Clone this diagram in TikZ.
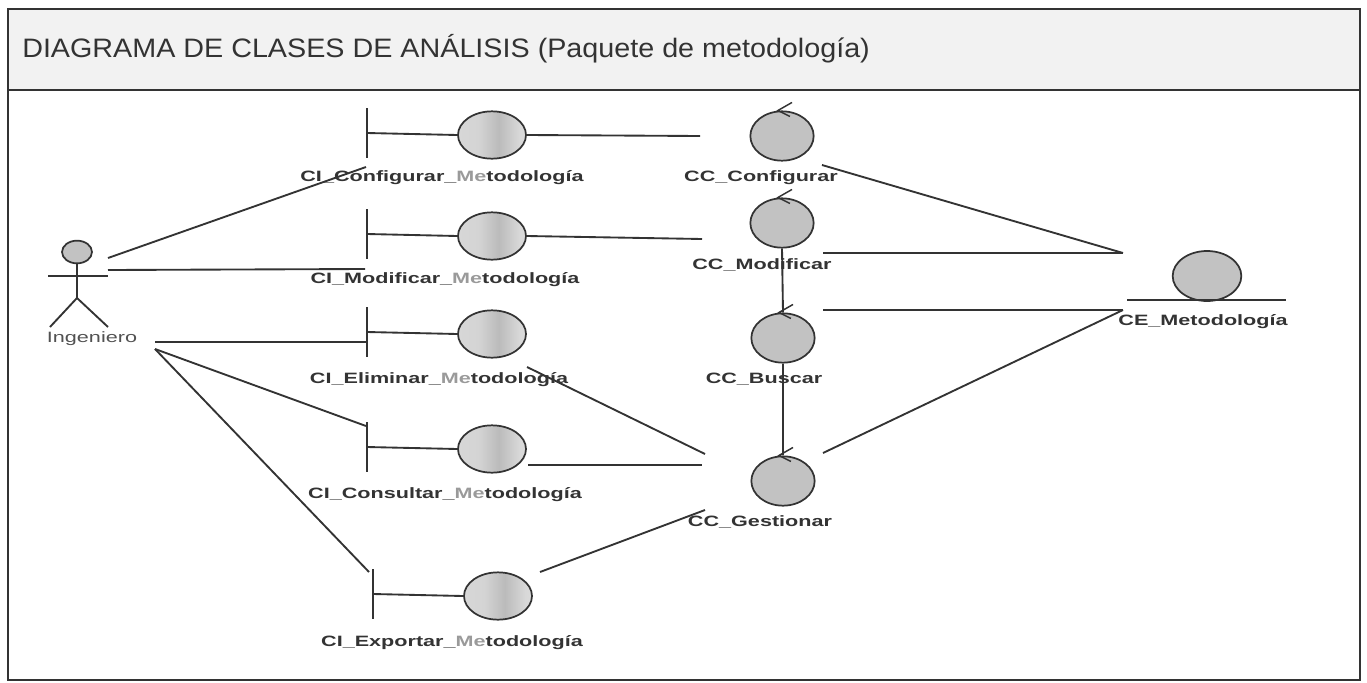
\documentclass[tikz,border=0pt]{standalone}
\usepackage{fontspec}
\usepackage{graphicx}
\setmainfont{Liberation Sans}
\usetikzlibrary{calc,shapes.geometric}

\definecolor{ink}{HTML}{333333}
\definecolor{soft}{HTML}{9A9A9A}
\definecolor{ctlfill}{HTML}{C2C2C2}
\definecolor{headfill}{HTML}{F2F2F2}
\definecolor{bA}{HTML}{DCDCDC}
\definecolor{bB}{HTML}{D4D4D4}
\definecolor{bC}{HTML}{BBBBBB}
\definecolor{bD}{HTML}{D8D8D8}
\definecolor{bE}{HTML}{ECECEC}

\pgfdeclarehorizontalshading{bndshade}{100bp}{color(0bp)=(bA); color(40bp)=(bB); color(55bp)=(bC); color(70bp)=(bD); color(100bp)=(bE)}

% text of the diagram is set wide
\newcommand{\widetxt}[1]{\scalebox{1.44}[1]{#1}}
\newcommand{\meto}{{\color{soft}Me}todología}

\begin{document}
\begin{tikzpicture}[x=0.75pt,y=-0.75pt,
  conn/.style={draw=ink, line width=1.4pt},
  frame/.style={draw=ink, line width=1.2pt},
  lbl/.style={font=\bfseries\fontsize{11.25}{13}\selectfont, text=ink, inner sep=0pt},
  actlbl/.style={font=\fontsize{11.25}{13}\selectfont, text=ink!85, inner sep=0pt},
  bnd/.style={ellipse, draw=ink, line width=1.3pt, shading=bndshade,
    minimum width=51pt, minimum height=35.5pt, inner sep=0pt},
  ctl/.style={ellipse, draw=ink, line width=1.3pt, fill=ctlfill,
    minimum width=47.5pt, minimum height=37pt, inner sep=0pt},
  ent/.style={ellipse, draw=ink, line width=1.3pt, fill=ctlfill,
    minimum width=51.5pt, minimum height=37.5pt, inner sep=0pt}]

\useasboundingbox (0,0) rectangle (1367,682);

% package frame and title bar
\filldraw[frame, fill=headfill] (8,9) rectangle (1360,90);
\draw[frame] (8,90) -- (8,680) -- (1360,680) -- (1360,90);
\node[anchor=base west, inner sep=0pt, text=ink,
  font=\fontsize{20}{24}\selectfont] (title) at (22,57)
  {\scalebox{1.077}[1]{DIAGRAMA DE CLASES DE ANÁLISIS (Paquete de metodología)}};

% actor
\node[ellipse, draw=ink, line width=1.3pt, fill=ctlfill, minimum width=22.5pt,
  minimum height=17pt, inner sep=0pt] (head) at (77,252) {};
\coordinate (hip) at (77,298);
\coordinate (armL) at (48,276);
\coordinate (armR) at (108,276);
\coordinate (footL) at (50,327);
\coordinate (footR) at (108,327);
\draw[conn] (head.south) -- (hip);
\draw[conn] (armL) -- (armR);
\draw[conn] (footL) -- (hip) -- (footR);
\node[actlbl] (ing) at (92,339) {\widetxt{Ingeniero}};

% boundary classes: bar, stub and shaded ellipse
\newcommand{\bndclass}[3]{%
  \node[bnd] (#1) at (#2,#3) {};
  \coordinate (#1-bt) at ($(#1)+(-125,-27)$);
  \coordinate (#1-bb) at ($(#1)+(-125,23)$);
  \draw[conn] (#1-bt) -- (#1-bb);
  \draw[conn] ($(#1-bt)!0.5!(#1-bb)$) -- (#1.west);
}
\bndclass{ciCfg}{492}{135}
\bndclass{ciMod}{492}{236}
\bndclass{ciEli}{492}{334}
\bndclass{ciCon}{492}{449}
\bndclass{ciExp}{498}{596}

\node[lbl] (ciCfgL) at (442,178) {\widetxt{CI\_Configurar\_\meto}};
\node[lbl] (ciModL) at (445,280) {\widetxt{CI\_Modificar\_\meto}};
\node[lbl] (ciEliL) at (439,380) {\widetxt{CI\_Eliminar\_\meto}};
\node[lbl] (ciConL) at (445,495) {\widetxt{CI\_Consultar\_\meto}};
\node[lbl] (ciExpL) at (452,643) {\widetxt{CI\_Exportar\_\meto}};

% control classes: circle with arrow head on top
\newcommand{\ctlarrow}[1]{%
  \draw[conn, line width=1.1pt] ($(#1.north)+(10,-8)$) -- ($(#1.north)+(-4,0)$) -- ($(#1.north)+(8,6)$);}
\node[ctl] (ccCfg) at (782,136) {};
\node[ctl] (ccMod) at (782,223) {};
\node[ctl] (ccBus) at (783,338) {};
\node[ctl] (ccGes) at (783,481) {};
\ctlarrow{ccCfg}
\ctlarrow{ccMod}
\ctlarrow{ccBus}
\ctlarrow{ccGes}
\node[lbl] (ccCfgL) at (761,178) {\widetxt{CC\_Configurar}};
\node[lbl] (ccModL) at (762,265) {\widetxt{CC\_Modificar}};
\node[lbl] (ccBusL) at (764,379) {\widetxt{CC\_Buscar}};
\node[lbl] (ccGesL) at (760,522) {\widetxt{CC\_Gestionar}};

% entity class
\node[ent] (ce) at (1207,276) {};
\coordinate (ceBaseL) at (1127,300);
\coordinate (ceBaseR) at (1286,300);
\draw[conn] (ceBaseL) -- (ceBaseR);
\node[lbl] (ceL) at (1203,322) {\widetxt{CE\_Metodología}};

% connector ends
\coordinate (ingA) at (108,258);
\coordinate (ingB) at (108,270);
\coordinate (ingC) at (155,342);
\coordinate (ingD) at (155,349);
\coordinate (ciCfgIn) at (366,167);
\coordinate (ciModIn) at (365,269);
\coordinate (ciEliIn) at (366,342);
\coordinate (ciConIn) at (366,426);
\coordinate (ciExpIn) at (369,572);
\coordinate (ccCfgIn) at (700,136);
\coordinate (ccModIn) at (702,239);
\coordinate (ciEliOut) at (527,367);
\coordinate (ciConOut) at (528,465);
\coordinate (ciExpOut) at (540,572);
\coordinate (gesA) at (705,454);
\coordinate (gesB) at (702,465);
\coordinate (gesC) at (705,510);
\coordinate (gesD) at (823,453);
\coordinate (cfgOut) at (822,165);
\coordinate (modOut) at (823,253);
\coordinate (busOut) at (823,310);
\coordinate (ceInA) at (1123,253);
\coordinate (ceInB) at (1123,310);

% actor links
\draw[conn] (ingA) -- (ciCfgIn);
\draw[conn] (ingB) -- (ciModIn);
\draw[conn] (ingC) -- (ciEliIn);
\draw[conn] (ingD) -- (ciConIn);
\draw[conn] (ingD) -- (ciExpIn);

% boundary to control links
\draw[conn] (ciCfg.east) -- (ccCfgIn);
\draw[conn] (ciMod.east) -- (ccModIn);
\draw[conn] (ciEliOut) -- (gesA);
\draw[conn] (ciConOut) -- (gesB);
\draw[conn] (ciExpOut) -- (gesC);

% control to control links
\draw[conn] (ccMod.south) -- (ccBus.north);
\draw[conn] (ccBus.south) -- (ccGes.north);

% control to entity links
\draw[conn] (cfgOut) -- (ceInA);
\draw[conn] (modOut) -- (ceInA);
\draw[conn] (busOut) -- (ceInB);
\draw[conn] (ceInB) -- (gesD);
\end{tikzpicture}
\end{document}
